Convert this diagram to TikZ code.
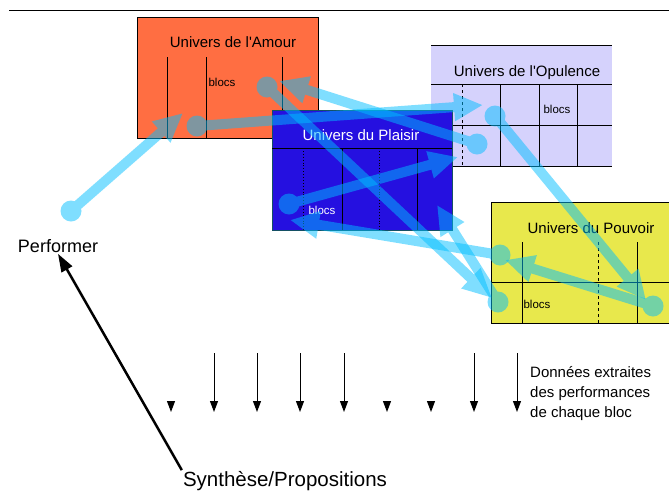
\documentclass[tikz,border=0pt]{standalone}
\usepackage{fontspec}
\setmainfont{Liberation Sans}
\usetikzlibrary{arrows.meta}

\definecolor{amour}{RGB}{255,110,66}
\definecolor{opulence}{RGB}{213,210,252}
\definecolor{plaisir}{RGB}{37,16,224}
\definecolor{plaisirbord}{RGB}{20,80,100}
\definecolor{pouvoir}{RGB}{232,232,76}
\definecolor{flux}{RGB}{0,190,255}

\tikzset{
  univtitre/.style={font=\fontsize{15}{18}\selectfont, inner sep=0pt},
  blocstexte/.style={font=\fontsize{11.5}{14}\selectfont, inner sep=0pt},
  cloison/.style={draw=black, line width=0.9pt},
  fluxligne/.style={draw=flux, line width=10pt, -{Triangle[length=29pt,width=26pt]}},
  donnee/.style={line width=1pt, -{Triangle[length=11pt,width=8pt]}},
  synfleche/.style={line width=2.5pt, -{Triangle[length=18pt,width=12pt]}},
}

\begin{document}
\begin{tikzpicture}[x=1pt, y=-1pt]
    \useasboundingbox (0,0) rectangle (669,493);

    % Ligne du haut
    \draw[line width=1pt] (9,10) -- (669,10);

    % Univers de l'Amour
    \fill[amour] (137,17) rectangle (318,138);
    \draw[cloison] (137,17) rectangle (318,138);
    \foreach \x in {167,206,282}
    \draw[cloison] (\x,57) -- (\x,138);
    \node[univtitre] (amour) at (233,42) {Univers de l\textquotesingle Amour};
    \node[blocstexte] (blocsamour) at (222,82) {blocs};

    % Univers de l'Opulence
    \fill[opulence] (431,45) rectangle (612,166);
    \foreach \y in {45,84,125,166}
    \draw[cloison] (431,\y) -- (612,\y);
    \draw[cloison, dashed] (462,84) -- (462,166);
    \foreach \x in {500,539,577}
    \draw[cloison] (\x,84) -- (\x,166);
    \node[univtitre] (opulence) at (527,73) {Univers de l\textquotesingle Opulence};
    \node[blocstexte] (blocsopulence) at (557,109) {blocs};

    % Univers du Plaisir
    \fill[plaisir] (272,110) rectangle (452,230);
    \draw[plaisirbord, line width=0.9pt] (272,110) rectangle (452,230);
    \draw[cloison] (272,148) -- (452,148);
    \foreach \x in {303,379}
    \draw[cloison, dotted] (\x,148) -- (\x,230);
    \foreach \x in {342,417}
    \draw[cloison] (\x,148) -- (\x,230);
    \node[univtitre, white] (plaisir) at (361,135) {Univers du Plaisir};
    \node[blocstexte, white] (blocsplaisir) at (322,210) {blocs};

    % Univers du Pouvoir
    \fill[pouvoir] (491,202) rectangle (669,323);
    \foreach \y in {202,282,323}
    \draw[cloison] (491,\y) -- (669,\y);
    \draw[cloison] (491,202) -- (491,323);
    \draw[cloison, dashed] (598,242) -- (598,323);
    \foreach \x in {522,637}
    \draw[cloison] (\x,242) -- (\x,323);
    \node[univtitre] (pouvoir) at (591,228) {Univers du Pouvoir};
    \node[blocstexte] (blocspouvoir) at (537,304) {blocs};

    % Flux entre les blocs
    \coordinate (perfdep) at (71,211);      \coordinate (amourarr) at (183,113);
    \coordinate (amourdep) at (197,126);    \coordinate (opularr) at (483,105);
    \coordinate (opuldep) at (477,144);     \coordinate (amourarrb) at (279,81);
    \coordinate (amourdepb) at (267,87);    \coordinate (pouvarr) at (492,298);
    \coordinate (plaisdep) at (289,204);    \coordinate (opularrb) at (458,157);
    \coordinate (pouvdep) at (500,255);     \coordinate (plaisarr) at (290,220);
    \coordinate (pouvdepb) at (653,306);    \coordinate (pouvarrb) at (505,260);
    \coordinate (opuldepb) at (495,116);    \coordinate (pouvarrc) at (646,300);
    \coordinate (pouvdepc) at (498,302);    \coordinate (plaisarrb) at (437,205);
    \foreach \dep/\arr in {perfdep/amourarr, amourdep/opularr, opuldep/amourarrb,
        amourdepb/pouvarr, plaisdep/opularrb, pouvdep/plaisarr, pouvdepb/pouvarrb,
        opuldepb/pouvarrc, pouvdepc/plaisarrb}{
      \begin{scope}[transparency group, opacity=0.5]
        \fill[flux] (\dep) circle (10.5);
        \draw[fluxligne] (\dep) -- (\arr);
      \end{scope}
    }

    % Performer et synthese
    \node[font=\fontsize{18}{22}\selectfont, inner sep=1pt] (perf) at (58,246) {Performer};
    \node[font=\fontsize{20.5}{24}\selectfont, inner sep=1pt] (synth) at (285,481) {Synthèse/Propositions};
    \draw[synfleche] (synth.north west) -- (perf.south);

    % Donnees extraites
    \foreach \x in {214,257,300,344,474,517}
    \draw[donnee] (\x,353) -- (\x,412);
    \foreach \x in {171,387,431}
    \draw[donnee] (\x,401) -- (\x,412);
    \node[font=\fontsize{15}{20}\selectfont, align=left, anchor=north west, inner sep=0pt]
        (donnees) at (530,366) {Données extraites\\des performances\\de chaque bloc};
\end{tikzpicture}
\end{document}
